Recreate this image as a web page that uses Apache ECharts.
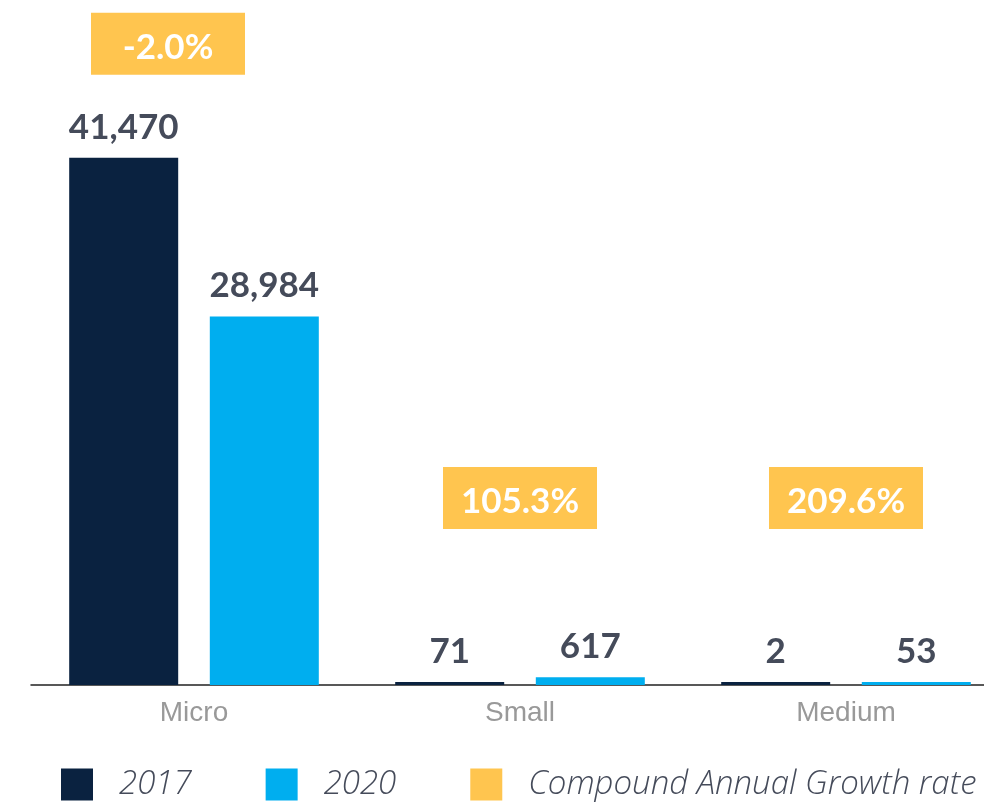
<!DOCTYPE html>
<html>
<head>
<meta charset="utf-8">
<script src="https://cdn.jsdelivr.net/npm/echarts@6/dist/echarts.min.js"></script>
<style>
  html, body { margin: 0; padding: 0; background: #fff; }
  #main { width: 984px; height: 807px; }
</style>
</head>
<body>
<div id="main"></div>
<script>
// data
var categories = ["Micro", "Small", "Medium"];
var firms2017 = [41470, 71, 2];
var firms2020 = [28984, 617, 53];
var cagr = [-2.0, 105.3, 209.6]; // %

// where the growth boxes sit (share of plot height) and horizontal nudge
var boxLevel = [0.95, 0.277, 0.277];
var boxShift = [-26, 0, 0];

var navy = "#0a2240", cyan = "#00aeef", yellow = "#ffc54f";
var labelColor = "#454b5a";

var myChart = echarts.init(document.getElementById("main"));

var valueLabel = {
  show: true,
  position: "top",
  distance: 13,
  fontFamily: "Lato",
  fontWeight: "bold",
  fontSize: 35,
  color: labelColor,
  formatter: function (p) {
    return p.value.toLocaleString("en-US");
  }
};

myChart.setOption({
  animation: false,
  grid: { left: 31, width: 978, top: 10, bottom: 122, outerBoundsMode: "none" },
  legend: {
    left: 61,
    top: 768,
    padding: 0,
    icon: "rect",
    itemWidth: 32,
    itemHeight: 32,
    itemGap: 74,
    textStyle: {
      fontFamily: "Open Sans",
      fontStyle: "italic",
      fontWeight: 300,
      fontSize: 33,
      color: labelColor,
      padding: [0, 0, 0, 21]
    },
    data: ["2017", "2020", "Compound Annual Growth rate"]
  },
  xAxis: {
    type: "category",
    data: categories,
    axisTick: { show: false },
    axisLine: { lineStyle: { color: "#222", width: 1.5 } },
    axisLabel: {
      margin: 14,
      fontFamily: "Liberation Sans",
      fontSize: 28,
      color: "#999"
    }
  },
  yAxis: [
    {
      type: "value",
      min: 0,
      max: function (v) { return v.max / 0.781; },
      show: false
    },
    { type: "value", min: 0, max: 1, show: false }
  ],
  series: [
    {
      name: "2017",
      type: "bar",
      barWidth: 109,
      barGap: "29%",
      barMinHeight: 3,
      itemStyle: { color: navy },
      label: valueLabel,
      data: firms2017
    },
    {
      name: "2020",
      type: "bar",
      barWidth: 109,
      barMinHeight: 3,
      itemStyle: { color: cyan },
      label: valueLabel,
      data: firms2020
    },
    {
      name: "Compound Annual Growth rate",
      type: "scatter",
      yAxisIndex: 1,
      symbol: "rect",
      symbolSize: [154, 62],
      clip: false,
      itemStyle: { color: yellow, opacity: 1 },
      label: {
        show: true,
        position: "inside",
        offset: [0, 4],
        fontFamily: "Lato",
        fontWeight: "bold",
        fontSize: 35,
        color: "#fff",
        formatter: function (p) { return p.value[2].toFixed(1) + "%"; }
      },
      data: cagr.map(function (v, i) {
        return { value: [i, boxLevel[i], v], symbolOffset: [boxShift[i], 0] };
      })
    }
  ]
});

window.addEventListener("resize", function () {
  myChart.resize();
});
</script>
</body>
</html>
